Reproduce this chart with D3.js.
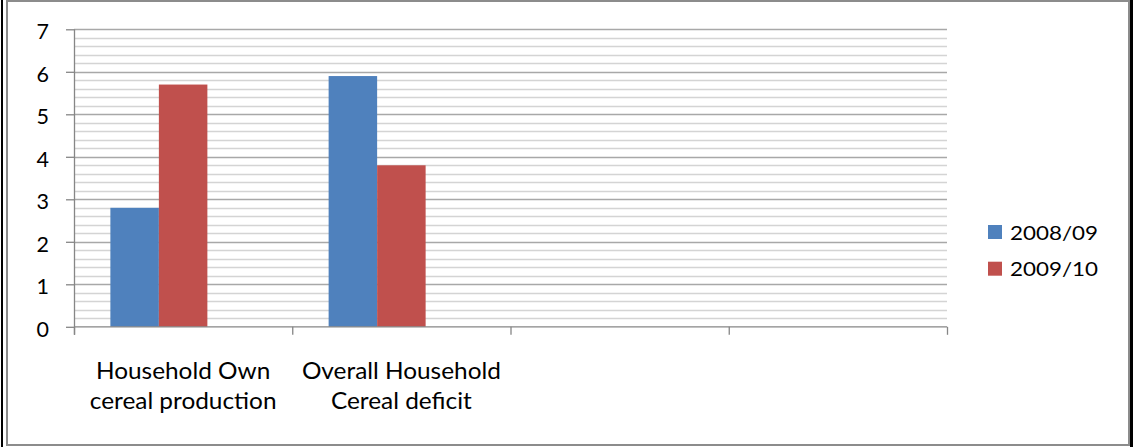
<!DOCTYPE html>
<html>
<head>
<meta charset="utf-8">
<script src="https://cdn.jsdelivr.net/npm/d3@7"></script>
<style>
    body { margin: 0; background: #fff; }
    svg { display: block; }
    text { font-family: Lato, "Open Sans", sans-serif; fill: #000; }
</style>
</head>
<body>
<div id="chart"></div>
<script>
// Chart data
const categories = ["Household Own\ncereal production", "Overall Household\nCereal deficit", "", ""];
const seriesNames = ["2008/09", "2009/10"];
const values2008 = [2.8, 5.9, null, null];
const values2009 = [5.7, 3.8, null, null];
const yTicks = [0, 1, 2, 3, 4, 5, 6, 7];
const colors = ["#4F81BD", "#C0504D"];

const W = 1133, H = 447;
const plot = { left: 74, right: 947, top: 29.3, bottom: 326.8 };

const svg = d3.select("#chart")
    .append("svg")
    .attr("width", W)
    .attr("height", H);

// Outer frame
svg.append("rect")
    .attr("x", 7).attr("y", 1)
    .attr("width", 1122).attr("height", 444)
    .attr("fill", "#fff")
    .attr("stroke", "#8c8c8c")
    .attr("stroke-width", 2);
svg.append("line").attr("x1", 2).attr("x2", 2).attr("y1", 0).attr("y2", H)
    .attr("stroke", "#000").attr("stroke-width", 2);
svg.append("line").attr("x1", 1131.5).attr("x2", 1131.5).attr("y1", 0).attr("y2", H)
    .attr("stroke", "#000").attr("stroke-width", 3);

// Scales
const y = d3.scaleLinear()
    .domain([0, 7])
    .range([plot.bottom, plot.top]);

const x0 = d3.scaleBand()
    .domain(d3.range(categories.length))
    .range([plot.left, plot.right])
    .padding(0);

// third slot is an empty series, as in the original chart
const x1 = d3.scaleBand()
    .domain([...seriesNames, "_blank"])
    .range([0, x0.bandwidth()])
    .paddingInner(0)
    .paddingOuter(0.75);

// Minor gridlines (every 0.2)
svg.append("g")
    .selectAll("line")
    .data(y.ticks(35).filter(d => !yTicks.includes(d)))
    .join("line")
    .attr("x1", plot.left).attr("x2", plot.right)
    .attr("y1", d => Math.round(y(d)) + 0.5)
    .attr("y2", d => Math.round(y(d)) + 0.5)
    .attr("stroke", "#d4d4d4")
    .attr("stroke-width", 1.3);

// Major gridlines
svg.append("g")
    .selectAll("line")
    .data(yTicks.filter(d => d > 0))
    .join("line")
    .attr("x1", plot.left).attr("x2", plot.right)
    .attr("y1", d => Math.round(y(d)) + 0.5)
    .attr("y2", d => Math.round(y(d)) + 0.5)
    .attr("stroke", "#a8a8a8")
    .attr("stroke-width", 1.3);

// Bars
const rows = categories.map((c, i) => ({ i, vals: [values2008[i], values2009[i]] }));
svg.append("g")
    .selectAll("g")
    .data(rows)
    .join("g")
    .attr("transform", d => `translate(${x0(d.i)},0)`)
    .selectAll("rect")
    .data(d => d.vals.map((v, k) => ({ key: seriesNames[k], v, k })).filter(e => e.v != null))
    .join("rect")
    .attr("x", d => x1(d.key))
    .attr("width", x1.bandwidth())
    .attr("y", d => y(d.v))
    .attr("height", d => y(0) - y(d.v))
    .attr("fill", d => colors[d.k]);

// Y axis
const yAxis = svg.append("g")
    .attr("transform", `translate(${plot.left},0)`)
    .call(d3.axisLeft(y).tickValues(yTicks).tickSize(8).tickPadding(17).tickFormat(d3.format("d")));
yAxis.select(".domain").attr("stroke", "#868686").attr("stroke-width", 1.3)
    .attr("d", `M0.5,${plot.top}V${plot.bottom + 8}`);
yAxis.selectAll(".tick line").attr("stroke", "#868686").attr("stroke-width", 1.3);
yAxis.selectAll(".tick text")
    .attr("font-size", 21.5)
    .attr("dy", "0.43em")
    .style("font-family", "Lato, sans-serif");

// X axis line and category boundary ticks
svg.append("line")
    .attr("x1", plot.left).attr("x2", plot.right)
    .attr("y1", y(0)).attr("y2", y(0))
    .attr("stroke", "#868686").attr("stroke-width", 1.3);

svg.append("g")
    .selectAll("line")
    .data(d3.range(categories.length + 1))
    .join("line")
    .attr("x1", i => plot.left + i * x0.step() + 0.5)
    .attr("x2", i => plot.left + i * x0.step() + 0.5)
    .attr("y1", y(0))
    .attr("y2", y(0) + 8)
    .attr("stroke", "#868686").attr("stroke-width", 1.3);

// Category labels
svg.append("g")
    .selectAll("text")
    .data(rows.filter(d => categories[d.i] !== ""))
    .join("text")
    .attr("transform", d => `translate(${x0(d.i) + x0.bandwidth() / 2},379) scale(1.06,1)`)
    .attr("text-anchor", "middle")
    .attr("font-size", 23)
    .selectAll("tspan")
    .data(d => categories[d.i].split("\n"))
    .join("tspan")
    .attr("x", 0)
    .attr("y", (d, k) => k * 30.5)
    .text(d => d);

// Legend
const legend = svg.append("g")
    .selectAll("g")
    .data(seriesNames)
    .join("g")
    .attr("transform", (d, k) => `translate(988,${225 + k * 36.7})`);
legend.append("rect")
    .attr("width", 14).attr("height", 14)
    .attr("fill", (d, k) => colors[k]);
legend.append("text")
    .attr("transform", "translate(22,14.5) scale(1.12,1)")
    .attr("font-size", 20)
    .text(d => d);
</script>
</body>
</html>
